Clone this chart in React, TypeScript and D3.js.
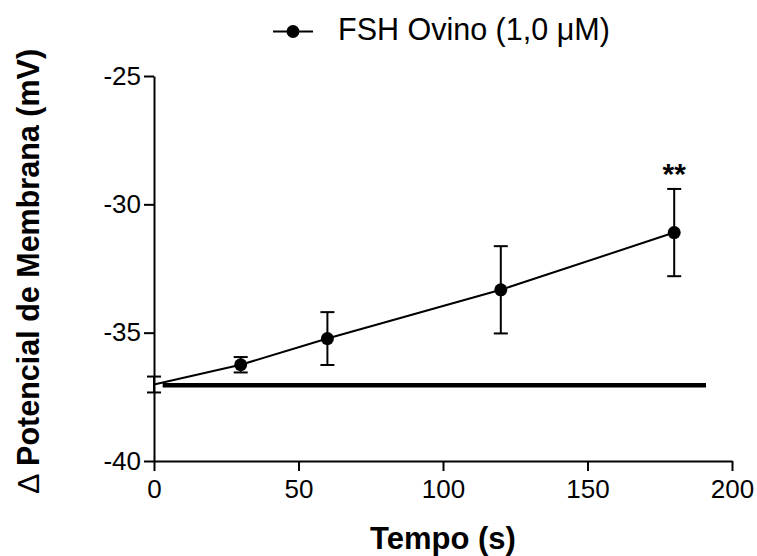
import React, { useRef, useEffect } from "react";
import * as d3 from "d3";

// tempo (s) and mean membrane potential (mV) with error (SEM)
const tempo = [0, 30, 60, 120, 180];
const potencial = [-37.02, -36.25, -35.23, -33.33, -31.1];
const erro = [0.31, 0.3, 1.03, 1.7, 1.7];
// control baseline (thick line)
const baseX = [3, 191];
const baseY = [-37.05, -37.05];
const xTicks = [0, 50, 100, 150, 200];
const yTicks = [-40, -35, -30, -25];
const legendLabel = "FSH Ovino (1,0 μM)";

const W = 757;
const H = 556;
const FONT = "Arial, 'Liberation Sans', sans-serif";

const App = () => {
  const svgRef = useRef<SVGSVGElement>(null);

  useEffect(() => {
    const svg = d3.select(svgRef.current);
    svg.selectAll("*").remove();

    const x = d3.scaleLinear().domain([0, 200]).range([154, 732]);
    const y = d3.scaleLinear().domain([-40, -25]).range([461, 76]);

    // axes (hyphen minus like the original, not unicode minus)
    const fmt = (d: d3.NumberValue) => String(d);
    const xAxis = d3.axisBottom(x).tickValues(xTicks).tickFormat(fmt).tickSize(10).tickPadding(9).tickSizeOuter(0);
    const gx = svg.append("g").attr("transform", `translate(0,${y(-40)})`).call(xAxis);
    const yAxis = d3.axisLeft(y).tickValues(yTicks).tickFormat(fmt).tickSize(10).tickPadding(3).tickSizeOuter(0);
    const gy = svg.append("g").attr("transform", `translate(${x(0)},0)`).call(yAxis);
    [gx, gy].forEach((g) => {
      g.select(".domain").attr("stroke", "#000").attr("stroke-width", 2);
      g.selectAll(".tick line").attr("stroke", "#000").attr("stroke-width", 2);
      g.selectAll(".tick text")
        .attr("fill", "#000")
        .style("font-family", FONT)
        .style("font-size", "26px");
    });

    // baseline
    svg
      .append("line")
      .attr("x1", x(baseX[0]))
      .attr("x2", x(baseX[1]))
      .attr("y1", y(baseY[0]))
      .attr("y2", y(baseY[1]))
      .attr("stroke", "#000")
      .attr("stroke-width", 4.5);

    const pts = tempo.map((t, i) => ({ t, v: potencial[i], e: erro[i] }));

    // connecting line
    const line = d3
      .line<{ t: number; v: number }>()
      .x((d) => x(d.t))
      .y((d) => y(d.v));
    svg
      .append("path")
      .datum(pts)
      .attr("d", line)
      .attr("fill", "none")
      .attr("stroke", "#000")
      .attr("stroke-width", 2);

    // error bars
    const eb = svg.selectAll(".eb").data(pts).join("g").attr("class", "eb");
    eb.append("line")
      .attr("x1", (d) => x(d.t))
      .attr("x2", (d) => x(d.t))
      .attr("y1", (d) => y(d.v - d.e))
      .attr("y2", (d) => y(d.v + d.e))
      .attr("stroke", "#000")
      .attr("stroke-width", 2);
    [1, -1].forEach((s) => {
      eb.append("line")
        .attr("x1", (d) => x(d.t) - 7)
        .attr("x2", (d) => x(d.t) + 7)
        .attr("y1", (d) => y(d.v + s * d.e))
        .attr("y2", (d) => y(d.v + s * d.e))
        .attr("stroke", "#000")
        .attr("stroke-width", 2);
    });

    // points (first point has no marker)
    svg
      .selectAll(".pt")
      .data(pts.slice(1))
      .join("circle")
      .attr("class", "pt")
      .attr("cx", (d) => x(d.t))
      .attr("cy", (d) => y(d.v))
      .attr("r", 6.5)
      .attr("fill", "#000");

    // significance
    const last = pts[pts.length - 1];
    svg
      .append("text")
      .attr("x", x(last.t))
      .attr("y", y(last.v + last.e) - 5)
      .attr("text-anchor", "middle")
      .style("font-family", FONT)
      .style("font-size", "30px")
      .style("font-weight", "bold")
      .text("**");

    // legend
    const lg = svg.append("g");
    lg.append("line")
      .attr("x1", 273)
      .attr("x2", 313)
      .attr("y1", 31.5)
      .attr("y2", 31.5)
      .attr("stroke", "#000")
      .attr("stroke-width", 2);
    lg.append("circle").attr("cx", 293).attr("cy", 31.5).attr("r", 6.5).attr("fill", "#000");
    lg.append("text")
      .attr("x", 338)
      .attr("y", 40)
      .style("font-family", FONT)
      .style("font-size", "30.5px")
      .text(legendLabel);

    // axis titles
    svg
      .append("text")
      .attr("x", x(100))
      .attr("y", 549)
      .attr("text-anchor", "middle")
      .style("font-family", FONT)
      .style("font-size", "31px")
      .style("font-weight", "bold")
      .text("Tempo (s)");
    const yt = svg
      .append("text")
      .attr("transform", `translate(39,271) rotate(-90)`)
      .attr("text-anchor", "middle")
      .style("font-family", FONT)
      .style("font-size", "30.5px")
      .style("font-weight", "bold");
    yt.append("tspan").style("font-weight", "normal").text("∆ ");
    yt.append("tspan").text("Potencial de Membrana (mV)");
  }, []);

  return (
    <svg
      ref={svgRef}
      width={W}
      height={H}
      style={{ position: "absolute", left: 0, top: 0, background: "#fff" }}
    />
  );
};

export default App;
